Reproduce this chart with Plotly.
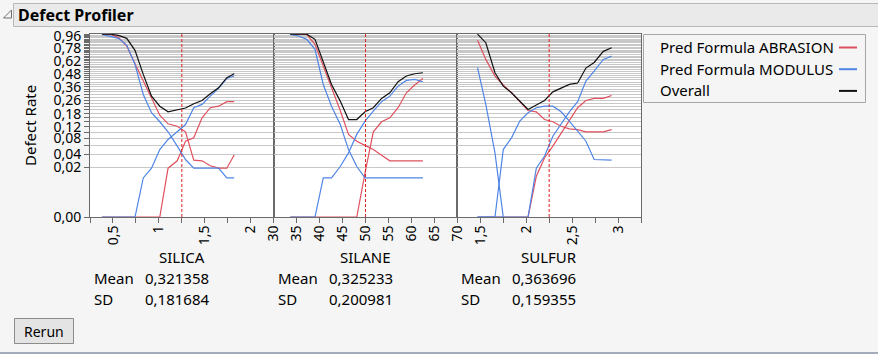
import plotly.graph_objects as go

# ---------------- data ----------------
factors = ["SILICA", "SILANE", "SULFUR"]
current_values = [1.25, 50, 2.25]
means = [0.321358, 0.325233, 0.363696]
sds = [0.181684, 0.200981, 0.159355]

silica_x = [0.38, 0.47, 0.56, 0.65, 0.74, 0.83, 0.92, 1.01, 1.10, 1.20, 1.29, 1.38, 1.47, 1.56, 1.65, 1.74, 1.82]
silica_abrasion_lo = [0.998, 0.995, 0.946, 0.816, 0.588, 0.410, 0.281, 0.172, 0.132, 0.122, 0.101, 0.030, 0.029, 0.022, 0.019, 0.019, 0.039]
silica_abrasion_hi = [0, 0, 0, 0, 0, 0, 0, 0, 0.019, 0.029, 0.071, 0.081, 0.159, 0.213, 0.222, 0.250, 0.250]
silica_modulus_lo = [0.995, 0.962, 0.930, 0.830, 0.580, 0.300, 0.185, 0.141, 0.101, 0.058, 0.031, 0.019, 0.019, 0.019, 0.019, 0.0097, 0.0097]
silica_modulus_hi = [0, 0, 0, 0, 0, 0.0097, 0.019, 0.050, 0.076, 0.101, 0.129, 0.213, 0.233, 0.288, 0.347, 0.434, 0.457]
silica_overall = [0.998, 0.997, 0.978, 0.930, 0.755, 0.473, 0.288, 0.222, 0.190, 0.199, 0.211, 0.237, 0.258, 0.305, 0.352, 0.441, 0.480]

silane_x = [33.6, 35.4, 37.2, 39.0, 40.8, 42.6, 44.5, 46.3, 48.1, 49.9, 51.7, 53.5, 55.3, 57.1, 58.9, 60.7, 62.5]
silane_abrasion_lo = [0.999, 0.998, 0.995, 0.840, 0.561, 0.352, 0.197, 0.092, 0.071, 0.060, 0.050, 0.0385, 0.029, 0.029, 0.029, 0.029, 0.029]
silane_abrasion_hi = [0, 0, 0, 0, 0, 0, 0, 0, 0, 0.014, 0.101, 0.141, 0.159, 0.213, 0.313, 0.375, 0.434]
silane_modulus_lo = [0.995, 0.968, 0.915, 0.769, 0.380, 0.222, 0.129, 0.050, 0.021, 0.0097, 0.0097, 0.0097, 0.0097, 0.0097, 0.0097, 0.0097, 0.0097]
silane_modulus_hi = [0, 0, 0, 0, 0.0097, 0.0097, 0.021, 0.043, 0.092, 0.144, 0.194, 0.250, 0.288, 0.366, 0.416, 0.425, 0.404]
silane_overall = [0.999, 0.999, 0.998, 0.915, 0.619, 0.380, 0.254, 0.151, 0.151, 0.190, 0.213, 0.272, 0.313, 0.404, 0.457, 0.480, 0.490]

sulfur_x = [1.47, 1.56, 1.66, 1.75, 1.84, 1.93, 2.02, 2.11, 2.20, 2.29, 2.38, 2.47, 2.56, 2.65, 2.74, 2.84, 2.93]
sulfur_abrasion_lo = [0.900, 0.639, 0.457, 0.375, 0.313, 0.254, 0.197, 0.190, 0.151, 0.141, 0.122, 0.112, 0.109, 0.101, 0.101, 0.101, 0.109]
sulfur_abrasion_hi = [0, 0, 0, 0, 0, 0, 0, 0.011, 0.034, 0.058, 0.097, 0.144, 0.213, 0.258, 0.272, 0.272, 0.293]
sulfur_modulus_lo = [0.543, 0.233, 0.043, 0, None, None, None, None, None, None, None, None, None, None, None, None, None]
sulfur_modulus_mid = [0, 0, 0, 0.050, 0.081, 0.144, 0.185, 0.213, 0.222, 0.222, 0.190, 0.144, 0.103, 0.071, 0.031, 0.030, 0.030]
sulfur_modulus_hi = [0, 0, 0, 0, 0, 0, 0, 0.019, 0.037, 0.086, 0.129, 0.190, 0.250, 0.410, 0.507, 0.639, 0.680]
sulfur_overall = [0.998, 0.864, 0.490, 0.366, 0.313, 0.254, 0.203, 0.229, 0.258, 0.320, 0.352, 0.380, 0.392, 0.539, 0.602, 0.742, 0.792]

y_tick_labels = [0.00, 0.02, 0.04, 0.08, 0.12, 0.18, 0.26, 0.36, 0.48, 0.62, 0.78, 0.96]
legend_names = ["Pred Formula ABRASION", "Pred Formula MODULUS", "Overall"]

# ---------------- styling ----------------
RED = "#e0505e"
BLUE = "#4f85e6"
BLACK = "#111111"
FONT = "Noto Sans"
W, H = 878, 354
ML, MR, MT, MB = 90, 237, 34, 137
PW, PH = W - ML - MR, H - MT - MB


def fx(p):  # pixel x -> paper
    return (p - ML) / PW


def fy(p):  # pixel y -> paper
    return (H - MB - p) / PH


def cbrt(v):
    return None if v is None else v ** (1.0 / 3.0)


panels = [
    (silica_x, [(silica_abrasion_lo, RED), (silica_abrasion_hi, RED),
                (silica_modulus_lo, BLUE), (silica_modulus_hi, BLUE),
                (silica_overall, BLACK)]),
    (silane_x, [(silane_abrasion_lo, RED), (silane_abrasion_hi, RED),
                (silane_modulus_lo, BLUE), (silane_modulus_hi, BLUE),
                (silane_overall, BLACK)]),
    (sulfur_x, [(sulfur_abrasion_lo, RED), (sulfur_abrasion_hi, RED),
                (sulfur_modulus_lo, BLUE), (sulfur_modulus_mid, BLUE),
                (sulfur_modulus_hi, BLUE), (sulfur_overall, BLACK)]),
]

fig = go.Figure()
for i, (xs, curves) in enumerate(panels):
    xa = "x" if i == 0 else f"x{i+1}"
    ya = "y" if i == 0 else f"y{i+1}"
    for vals, col in curves:
        fig.add_trace(go.Scatter(
            x=xs, y=[cbrt(v) for v in vals], mode="lines",
            line=dict(color=col, width=1.2), xaxis=xa, yaxis=ya,
            showlegend=False, hoverinfo="skip", connectgaps=False))

# y grid / ticks: every 0.02, labelled at selected values
grid_vals = [round(0.02 * k, 2) for k in range(0, 51)]
labelled = {round(v, 2) for v in y_tick_labels}
tickvals = [cbrt(v) for v in grid_vals]
ticktext = [f"{v:.2f}".replace(".", ",") if round(v, 2) in labelled else "" for v in grid_vals]

frame_col = "#6a6a6a"
common_y = dict(range=[0, 1], tickmode="array", tickvals=tickvals, ticktext=ticktext,
                showgrid=True, gridcolor="#c8c8c8", gridwidth=1, zeroline=False,
                showline=True, linecolor=frame_col, mirror=True, fixedrange=True)

x_specs = [
    dict(range=[0.25, 2.25], tick0=0, dtick=0.5, minor=dict(tick0=0, dtick=0.25, ticks="outside", ticklen=5, tickcolor=frame_col, showgrid=False)),
    dict(range=[30, 70], tick0=0, dtick=5),
    dict(range=[1.25, 3.25], tick0=0, dtick=0.5, minor=dict(tick0=0, dtick=0.25, ticks="outside", ticklen=5, tickcolor=frame_col, showgrid=False)),
]
layout_axes = {}
for i, spec in enumerate(x_specs):
    key = "xaxis" if i == 0 else f"xaxis{i+1}"
    ykey = "yaxis" if i == 0 else f"yaxis{i+1}"
    ax = dict(domain=[i / 3, (i + 1) / 3], anchor="y" if i == 0 else f"y{i+1}",
              tickmode="linear", ticks="outside", ticklen=5, tickcolor=frame_col,
              tickangle=-90, tickfont=dict(family=FONT, size=14, color="black"),
              ticklabelstandoff=-3,
              showgrid=False, zeroline=False, showline=True, linecolor=frame_col,
              mirror=True, fixedrange=True)
    ax.update(spec)
    layout_axes[key] = ax
    yax = dict(common_y)
    yax["anchor"] = "x" if i == 0 else f"x{i+1}"
    if i == 0:
        yax.update(ticks="outside", ticklen=5, tickcolor=frame_col,
                   tickfont=dict(family=FONT, size=14, color="black"))
    else:
        yax.update(ticks="", showticklabels=False)
    layout_axes[ykey] = yax

fig.update_layout(**layout_axes)

shapes = []
annotations = []

# current value dashed lines
for i, cv in enumerate(current_values):
    xa = "x" if i == 0 else f"x{i+1}"
    ya = "y domain" if i == 0 else f"y{i+1} domain"
    shapes.append(dict(type="line", xref=xa, yref=ya, x0=cv, x1=cv, y0=0, y1=1,
                       line=dict(color="#e02020", width=1, dash="3px,2px")))

# header bar
shapes.append(dict(type="rect", xref="paper", yref="paper", x0=fx(13.5), x1=fx(880), y0=fy(26.5), y1=fy(3.5),
                   fillcolor="#eaeaea", line=dict(color="#b8b8b8", width=1)))
shapes.append(dict(type="path", xref="paper", yref="paper",
                   path=f"M {fx(3.5)} {fy(18)} L {fx(11.5)} {fy(18)} L {fx(11.5)} {fy(10)} Z",
                   line=dict(color="#707070", width=1), fillcolor="rgba(0,0,0,0)"))
annotations.append(dict(text="<b>Defect Profiler</b>", xref="paper", yref="paper", x=fx(16), y=fy(15),
                        xanchor="left", yanchor="middle", showarrow=False,
                        font=dict(family=FONT, size=16, color="black")))

# y axis title
annotations.append(dict(text="Defect Rate", xref="paper", yref="paper", x=fx(29.5), y=fy(125.5),
                        textangle=-90, xanchor="center", yanchor="middle", showarrow=False,
                        font=dict(family=FONT, size=15, color="black")))

# factor names and stats
for i, name in enumerate(factors):
    left = ML + PW * i / 3
    center = ML + PW * (i + 0.5) / 3
    annotations.append(dict(text=name, xref="paper", yref="paper", x=fx(center), y=fy(257),
                            xanchor="center", yanchor="middle", showarrow=False,
                            font=dict(family=FONT, size=15, color="black")))
    for lab, val, yy in (("Mean", means[i], 278), ("SD", sds[i], 299)):
        annotations.append(dict(text=lab, xref="paper", yref="paper", x=fx(left + 2), y=fy(yy),
                                xanchor="left", yanchor="middle", showarrow=False,
                                font=dict(family=FONT, size=15, color="black")))
        annotations.append(dict(text=f"{val:.6f}".replace(".", ","), xref="paper", yref="paper",
                                x=fx(left + 53), y=fy(yy), xanchor="left", yanchor="middle",
                                showarrow=False, font=dict(family=FONT, size=15, color="black")))

# manual legend (text left, line sample right)
shapes.append(dict(type="rect", xref="paper", yref="paper", x0=fx(643.5), x1=fx(865.5), y0=fy(102.5), y1=fy(34.5),
                   fillcolor="rgba(0,0,0,0)", line=dict(color="#a6a6a6", width=1)))
for k, (nm, col) in enumerate(zip(legend_names, [RED, BLUE, BLACK])):
    yy = 47 + k * 21.7
    annotations.append(dict(text=nm, xref="paper", yref="paper", x=fx(658), y=fy(yy),
                            xanchor="left", yanchor="middle", showarrow=False,
                            font=dict(family=FONT, size=15, color="black")))
    shapes.append(dict(type="line", xref="paper", yref="paper", x0=fx(839), x1=fx(857), y0=fy(yy + 0.5), y1=fy(yy + 0.5),
                       line=dict(color=col, width=2)))

# Rerun button
shapes.append(dict(type="rect", xref="paper", yref="paper", x0=fx(14.5), x1=fx(73.5), y0=fy(343.5), y1=fy(318.5),
                   fillcolor="#e4e4e4", line=dict(color="#8c8c8c", width=1)))
annotations.append(dict(text="Rerun", xref="paper", yref="paper", x=fx(44), y=fy(331),
                        xanchor="center", yanchor="middle", showarrow=False,
                        font=dict(family=FONT, size=14, color="black")))
# bottom border
shapes.append(dict(type="line", xref="paper", yref="paper", x0=fx(0), x1=fx(880), y0=fy(353), y1=fy(353),
                   line=dict(color="#a4acbc", width=2)))

fig.update_layout(
    width=W, height=H,
    margin=dict(l=ML, r=MR, t=MT, b=MB, pad=0),
    paper_bgcolor="#f5f5f5", plot_bgcolor="white",
    separators=", ",
    showlegend=False,
    shapes=shapes, annotations=annotations,
    font=dict(family=FONT, size=15, color="black"),
)

fig.write_html("out.html", config={"displayModeBar": False})
